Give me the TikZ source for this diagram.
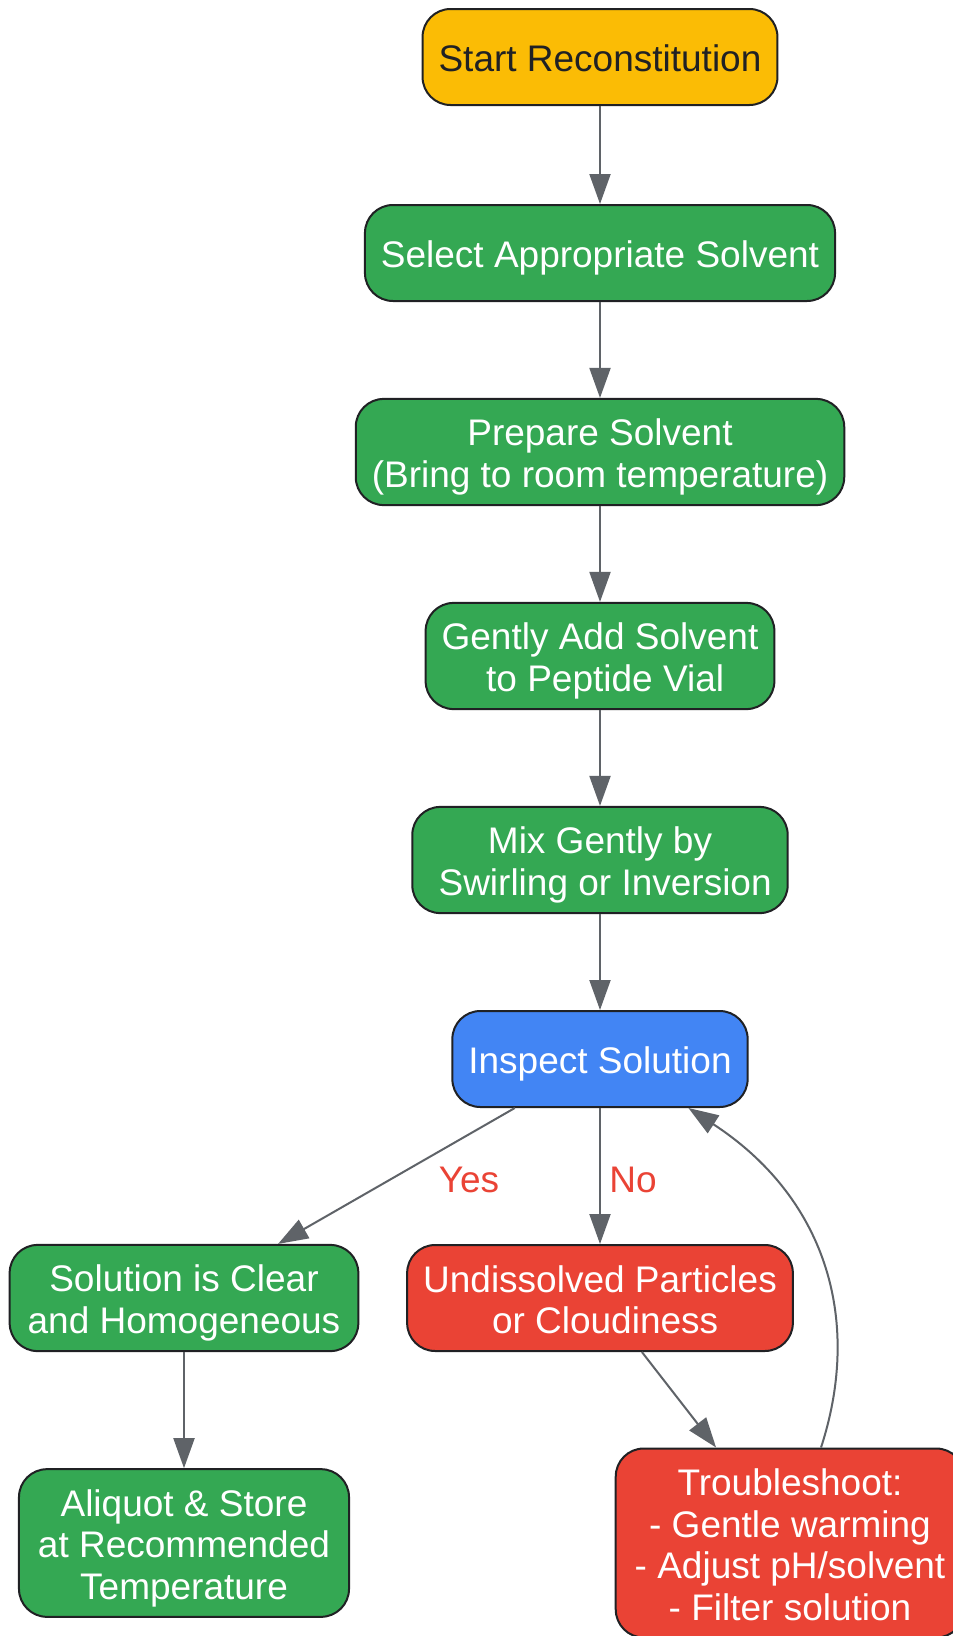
\documentclass[tikz,border=0pt]{standalone}
\usepackage{fontspec}
\setmainfont{Liberation Sans}
\usetikzlibrary{arrows.meta}

\definecolor{gyellow}{HTML}{FBBC05}
\definecolor{ggreen}{HTML}{34A853}
\definecolor{gblue}{HTML}{4285F4}
\definecolor{gred}{HTML}{EA4335}
\definecolor{textdark}{HTML}{202124}
\definecolor{edgegray}{HTML}{5F6368}
\definecolor{nodeline}{HTML}{202124}

\newcommand\flowfont{\fontsize{37}{41.5}\selectfont}
\newcommand\lift{\rule{0pt}{37pt}}

\tikzset{
	box/.style={draw=nodeline, line width=2pt, rounded corners=28pt, align=center,
		minimum height=96pt, inner xsep=16pt, inner ysep=10pt, text=white, font=\flowfont,
		execute at end node={\rule[-7.5pt]{0pt}{7.5pt}}},
	startbox/.style={box, fill=gyellow, text=textdark},
	stepbox/.style={box, fill=ggreen},
	checkbox/.style={box, fill=gblue},
	failbox/.style={box, fill=gred},
	flow/.style={draw=edgegray, line width=2pt, -{Triangle[length=30pt,width=21pt]}},
	lbl/.style={text=gred, font=\flowfont, inner sep=0pt}
}

\begin{document}
\begin{tikzpicture}[x=1pt,y=-1pt]

		\clip (0,0) rectangle (953,1636);
		\fill [white] (0,0) rectangle (953,1636);

		\node [startbox] (start)   at (600,  57) {\lift Start Reconstitution};
		\node [stepbox]  (select)  at (600, 253) {\lift Select Appropriate Solvent};
		\node [stepbox]  (prepare) at (600, 452) {\lift Prepare Solvent\\(Bring to room temperature)};
		\node [stepbox]  (add)     at (600, 656) {\lift Gently Add Solvent\\\ to Peptide Vial};
		\node [stepbox]  (mix)     at (600, 860) {\lift Mix Gently by\\\ Swirling or Inversion};
		\node [checkbox] (inspect) at (600,1059) {\lift Inspect Solution};

		\node [stepbox, inner xsep=18pt] (clear)  at (184,1298) {\lift Solution is Clear\\and Homogeneous};
		\node [failbox]                  (cloudy) at (600,1298) {\lift Undissolved Particles\\\ or Cloudiness};

		\node [stepbox, inner xsep=19pt] (store)   at (184,1543) {\lift Aliquot \& Store\\at Recommended\\Temperature};
		\node [failbox, inner xsep=19pt] (trouble) at (790,1543) {\lift Troubleshoot:\\- Gentle warming\\- Adjust pH/solvent\\- Filter solution};

		\draw [flow] (start)   -- (select);
		\draw [flow] (select)  -- (prepare);
		\draw [flow] (prepare) -- (add);
		\draw [flow] (add)     -- (mix);
		\draw [flow] (mix)     -- (inspect);

		\draw [flow] (inspect) -- (clear);
		\node [lbl] (yes) at (469,1180) {Yes};
		\draw [flow] (inspect) -- (cloudy);
		\node [lbl] (no)  at (633,1180) {No};

		\draw [flow] (clear)  -- (store);
		\draw [flow] (cloudy) -- (trouble);
		\draw [flow] (trouble.72) .. controls (864,1315) and (822,1195) .. (inspect.-29);

	\end{tikzpicture}
\end{document}
